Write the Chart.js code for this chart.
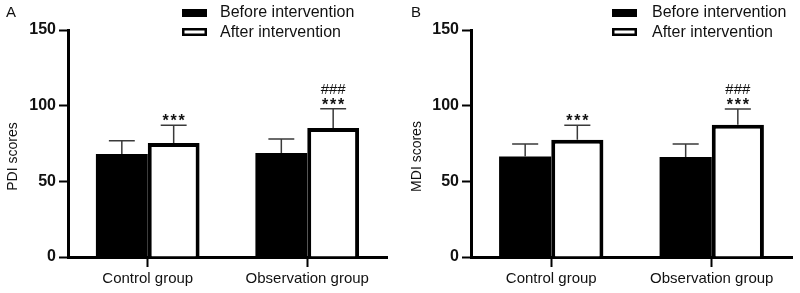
<!DOCTYPE html>
<html>
<head>
<meta charset="utf-8">
<script src="https://cdn.jsdelivr.net/npm/chart.js@4"></script>
<style>
  html, body { margin: 0; padding: 0; background: #fff; }
  #wrap { position: relative; width: 800px; height: 293px; }
  canvas { position: absolute; top: 0; }
</style>
</head>
<body>
<div id="wrap">
  <canvas id="chartA" width="400" height="293" style="left:0px"></canvas>
  <canvas id="chartB" width="400" height="293" style="left:400px"></canvas>
</div>
<script>
var groups = ['Control group', 'Observation group'];
var seriesNames = ['Before intervention', 'After intervention'];
var yTicks = [0, 50, 100, 150];

// panel A - PDI
var pdiBefore = [68.0, 68.7];
var pdiBeforeSd = [8.8, 9.2];
var pdiAfter = [75.3, 85.2];
var pdiAfterSd = [11.7, 12.8];

// panel B - MDI
var mdiBefore = [66.4, 66.0];
var mdiBeforeSd = [8.2, 8.6];
var mdiAfter = [77.5, 87.4];
var mdiAfterSd = [9.5, 10.4];

// significance marks over the "after" bars
var starMarks = ['***', '***'];
var hashMarks = ['', '###'];

var FONT = '"Liberation Sans", Arial, Helvetica, sans-serif';
var INK = '#111111';

// error bars, marks, legend, letter and y title
var panelDecor = {
  id: 'panelDecor',
  afterDatasetsDraw: function (chart, args, opts) {
    var ctx = chart.ctx;
    var yScale = chart.scales.y;
    ctx.save();
    ctx.strokeStyle = '#3a3a3a';
    ctx.lineWidth = 1.5;
    chart.data.datasets.forEach(function (ds, d) {
      var meta = chart.getDatasetMeta(d);
      meta.data.forEach(function (bar, i) {
        var top = yScale.getPixelForValue(ds.data[i]);
        var capY = yScale.getPixelForValue(ds.data[i] + ds.sd[i]);
        var half = bar.width / 4;
        ctx.beginPath();
        ctx.moveTo(bar.x, top);
        ctx.lineTo(bar.x, capY);
        ctx.moveTo(bar.x - half, capY);
        ctx.lineTo(bar.x + half, capY);
        ctx.stroke();

        if (d === 1) {
          ctx.fillStyle = INK;
          ctx.textAlign = 'center';
          ctx.textBaseline = 'alphabetic';
          if (starMarks[i]) {
            ctx.font = 'bold 16px ' + FONT;
            var chars = starMarks[i].split('');
            for (var k = 0; k < chars.length; k++) {
              ctx.fillText(chars[k], bar.x + (k - 1) * 8, capY - 8.5 + 9.5);
            }
          }
          if (hashMarks[i]) {
            ctx.font = '15px ' + FONT;
            ctx.fillText(hashMarks[i], bar.x, capY - 20 + 5.5);
          }
        }
      });
    });
    ctx.restore();
  },
  afterDraw: function (chart, args, opts) {
    var ctx = chart.ctx;
    var area = chart.chartArea;
    ctx.save();
    ctx.fillStyle = INK;

    // panel letter
    ctx.font = '15px ' + FONT;
    ctx.textAlign = 'left';
    ctx.textBaseline = 'alphabetic';
    ctx.fillText(opts.letter, opts.letterX, 17);

    // legend
    var lx = opts.legendX;
    ctx.fillStyle = '#000';
    ctx.fillRect(lx, 9, 25, 8);
    ctx.fillRect(lx, 28, 25, 8);
    ctx.fillStyle = '#fff';
    ctx.fillRect(lx + 2.5, 30.5, 20, 3);
    ctx.fillStyle = INK;
    ctx.font = '16px ' + FONT;
    ctx.fillText(chart.data.datasets[0].label, opts.legendTextX, 17);
    ctx.fillText(chart.data.datasets[1].label, opts.legendTextX, 37);

    // y axis title
    ctx.font = '14px ' + FONT;
    ctx.translate(area.left - opts.titleOffset, (area.top + area.bottom) / 2 + 13);
    ctx.rotate(-Math.PI / 2);
    ctx.textAlign = 'center';
    ctx.textBaseline = 'middle';
    ctx.fillText(opts.yTitle, 0, 0);
    ctx.restore();
  }
};

function makeChart(canvasId, decor, before, beforeSd, after, afterSd, leftWidth, rightPad) {
  var ctx = document.getElementById(canvasId).getContext('2d');
  return new Chart(ctx, {
    type: 'bar',
    data: {
      labels: groups,
      datasets: [
        {
          label: seriesNames[0],
          data: before,
          sd: beforeSd,
          backgroundColor: '#000000',
          borderWidth: 0
        },
        {
          label: seriesNames[1],
          data: after,
          sd: afterSd,
          backgroundColor: '#ffffff',
          borderColor: '#000000',
          borderWidth: 4
        }
      ]
    },
    options: {
      responsive: false,
      animation: false,
      events: [],
      barPercentage: 1,
      categoryPercentage: 0.65,
      layout: { padding: { top: 30, right: rightPad, bottom: 0, left: 0 } },
      plugins: {
        legend: { display: false },
        tooltip: { enabled: false },
        panelDecor: decor
      },
      scales: {
        x: {
          grid: { offset: false, drawOnChartArea: false, drawTicks: true, tickLength: 10, tickWidth: 2, color: '#000' },
          border: { display: true, color: '#000', width: 3 },
          ticks: { color: INK, padding: 3, font: { family: FONT, size: 15 } },
          afterFit: function (scale) { scale.height = 36; }
        },
        y: {
          min: 0,
          max: 150,
          grid: { drawOnChartArea: false, drawTicks: true, tickLength: 9, tickWidth: 2, color: '#000' },
          border: { display: true, color: '#000', width: 3 },
          ticks: { color: INK, padding: 3, font: { family: FONT, size: 16, weight: 'bold' } },
          afterBuildTicks: function (scale) {
            scale.ticks = yTicks.map(function (v) { return { value: v }; });
          },
          afterFit: function (scale) { scale.width = leftWidth; }
        }
      }
    },
    plugins: [panelDecor]
  });
}

makeChart('chartA',
  { letter: 'A', letterX: 6, legendX: 182, legendTextX: 220, yTitle: 'PDI scores', titleOffset: 55 },
  pdiBefore, pdiBeforeSd, pdiAfter, pdiAfterSd, 68, 13);

makeChart('chartB',
  { letter: 'B', letterX: 11, legendX: 212, legendTextX: 252, yTitle: 'MDI scores', titleOffset: 54 },
  mdiBefore, mdiBeforeSd, mdiAfter, mdiAfterSd, 71, 8);
</script>
</body>
</html>
